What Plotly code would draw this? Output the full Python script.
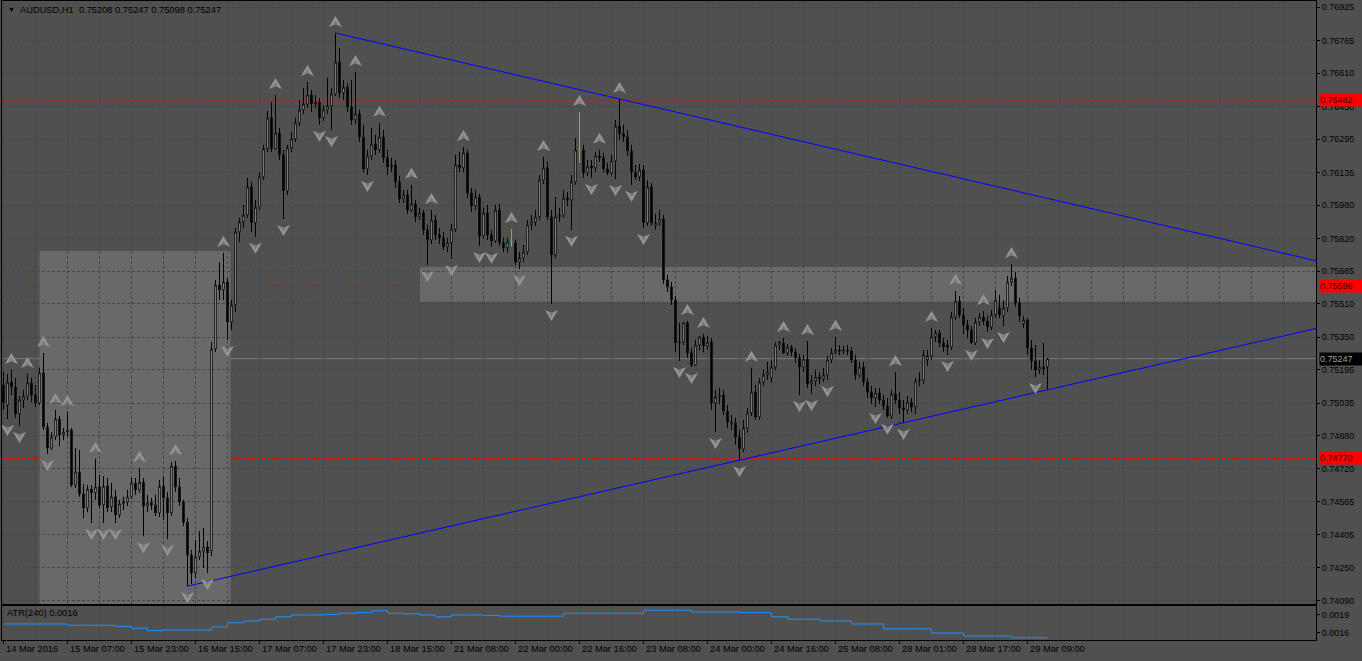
import plotly.graph_objects as go

# ---------------- data ----------------
symbol = "AUDUSD,H1"
opens = [0.75121,0.75025,0.75135,0.75112,0.74983,0.75049,0.75068,0.75131,0.75073,0.75035,
0.75179,0.74921,0.74820,0.74873,0.74959,0.74882,0.74896,0.74906,0.74643,0.74705,
0.74601,0.74534,0.74624,0.74606,0.74634,0.74548,0.74638,0.74539,0.74587,0.74500,
0.74553,0.74562,0.74587,0.74653,0.74620,0.74657,0.74543,0.74558,0.74548,0.74510,
0.74638,0.74582,0.74510,0.74734,0.74634,0.74562,0.74466,0.74309,0.74223,0.74300,
0.74328,0.74348,0.74330,0.75293,0.75599,0.75575,0.75613,0.75422,0.75503,0.75852,
0.75900,0.75933,0.76067,0.75895,0.75971,0.76115,0.76249,0.76397,0.76249,0.76325,
0.76220,0.76048,0.76254,0.76296,0.76373,0.76435,0.76463,0.76506,0.76463,0.76472,
0.76397,0.76435,0.76454,0.76511,0.76664,0.76516,0.76544,0.76449,0.76387,0.76416,
0.76306,0.76153,0.76215,0.76272,0.76244,0.76306,0.76206,0.76163,0.76172,0.76091,
0.76010,0.76029,0.75957,0.75986,0.75924,0.75943,0.75862,0.75814,0.75909,0.75838,
0.75824,0.75781,0.75800,0.75866,0.76172,0.76158,0.76230,0.76038,0.75976,0.76019,
0.75833,0.75943,0.75838,0.75809,0.75957,0.75800,0.75776,0.75804,0.75800,0.75708,
0.75728,0.75756,0.75886,0.75900,0.75924,0.76100,0.76158,0.75924,0.75742,0.75924,
0.75933,0.76014,0.76005,0.76091,0.76244,0.76244,0.76134,0.76167,0.76158,0.76215,
0.76206,0.76153,0.76134,0.76191,0.76358,0.76320,0.76306,0.76239,0.76138,0.76115,
0.76148,0.75895,0.76067,0.75881,0.75895,0.75914,0.75623,0.75589,0.75527,0.75322,
0.75326,0.75418,0.75274,0.75216,0.75312,0.75350,0.75307,0.75326,0.75035,0.75063,
0.75073,0.74997,0.74944,0.74940,0.74873,0.74815,0.74916,0.74988,0.75087,0.74968,
0.75135,0.75169,0.75155,0.75207,0.75312,0.75322,0.75274,0.75302,0.75279,0.75250,
0.75207,0.75245,0.75126,0.75140,0.75159,0.75150,0.75169,0.75241,0.75274,0.75288,
0.75283,0.75288,0.75283,0.75241,0.75169,0.75207,0.75135,0.75087,0.75059,0.75083,
0.75049,0.75020,0.74973,0.75078,0.75049,0.75011,0.75002,0.75039,0.75016,0.75140,
0.75145,0.75241,0.75260,0.75351,0.75370,0.75322,0.75312,0.75302,0.75446,0.75522,
0.75456,0.75408,0.75384,0.75322,0.75422,0.75446,0.75427,0.75398,0.75456,0.75489,
0.75451,0.75489,0.75613,0.75632,0.75513,0.75413,0.75432,0.75298,0.75236,0.75193,
0.75207,0.75208]
highs = [0.75183,0.75174,0.75193,0.75155,0.75068,0.75097,0.75174,0.75155,0.75121,0.75203,
0.75274,0.74940,0.74896,0.75002,0.74973,0.74916,0.74992,0.74916,0.74820,0.74811,
0.74648,0.74643,0.74643,0.74768,0.74691,0.74686,0.74677,0.74653,0.74620,0.74572,
0.74587,0.74620,0.74677,0.74677,0.74725,0.74677,0.74596,0.74582,0.74596,0.74667,
0.74686,0.74610,0.74753,0.74758,0.74677,0.74572,0.74486,0.74333,0.74381,0.74423,
0.74438,0.74376,0.75326,0.75623,0.75708,0.75752,0.75632,0.75527,0.75871,0.75919,
0.75981,0.76110,0.76091,0.76005,0.76138,0.76268,0.76430,0.76472,0.76506,0.76349,
0.76244,0.76268,0.76330,0.76397,0.76482,0.76540,0.76568,0.76530,0.76506,0.76492,
0.76458,0.76588,0.76540,0.76802,0.76731,0.76578,0.76564,0.76578,0.76616,0.76435,
0.76364,0.76244,0.76349,0.76316,0.76373,0.76339,0.76244,0.76206,0.76196,0.76120,
0.76053,0.76053,0.76077,0.76005,0.75967,0.75957,0.75886,0.75957,0.75933,0.75871,
0.75852,0.75824,0.75890,0.76220,0.76234,0.76258,0.76244,0.76062,0.76053,0.76034,
0.75967,0.75981,0.75862,0.75981,0.75986,0.75824,0.75824,0.75866,0.75814,0.75756,
0.75790,0.75909,0.75933,0.75957,0.76124,0.76210,0.76187,0.75957,0.76019,0.75967,
0.76053,0.76043,0.76124,0.76301,0.76425,0.76268,0.76196,0.76196,0.76234,0.76244,
0.76230,0.76182,0.76220,0.76387,0.76487,0.76364,0.76339,0.76268,0.76172,0.76177,
0.76172,0.76100,0.76086,0.75938,0.75957,0.75933,0.75647,0.75613,0.75546,0.75418,
0.75413,0.75427,0.75298,0.75336,0.75355,0.75365,0.75355,0.75346,0.75097,0.75107,
0.75097,0.75025,0.74978,0.74964,0.74906,0.74954,0.75011,0.75203,0.75121,0.75155,
0.75193,0.75231,0.75241,0.75326,0.75331,0.75346,0.75317,0.75312,0.75298,0.75269,
0.75264,0.75331,0.75169,0.75193,0.75183,0.75203,0.75260,0.75298,0.75351,0.75312,
0.75307,0.75312,0.75302,0.75264,0.75231,0.75231,0.75155,0.75116,0.75107,0.75107,
0.75073,0.75059,0.75097,0.75183,0.75087,0.75049,0.75068,0.75059,0.75155,0.75183,
0.75288,0.75288,0.75394,0.75384,0.75384,0.75346,0.75336,0.75470,0.75570,0.75546,
0.75489,0.75432,0.75403,0.75441,0.75465,0.75474,0.75451,0.75479,0.75575,0.75551,
0.75527,0.75642,0.75699,0.75661,0.75537,0.75451,0.75441,0.75336,0.75312,0.75241,
0.75322,0.75247]
lows = [0.75002,0.74959,0.75073,0.74964,0.74925,0.75011,0.75049,0.75039,0.75016,0.75025,
0.74906,0.74792,0.74811,0.74858,0.74829,0.74858,0.74873,0.74634,0.74629,0.74587,
0.74486,0.74514,0.74462,0.74572,0.74534,0.74462,0.74514,0.74514,0.74462,0.74486,
0.74524,0.74543,0.74577,0.74596,0.74606,0.74399,0.74514,0.74524,0.74495,0.74491,
0.74476,0.74385,0.74495,0.74610,0.74543,0.74447,0.74160,0.74170,0.74199,0.74285,
0.74247,0.74223,0.74304,0.75278,0.75527,0.75527,0.75336,0.75384,0.75470,0.75804,
0.75871,0.75919,0.75852,0.75829,0.75957,0.76100,0.76234,0.76234,0.76244,0.76196,
0.75914,0.76029,0.76234,0.76282,0.76358,0.76416,0.76444,0.76425,0.76444,0.76364,
0.76382,0.76416,0.76339,0.76501,0.76492,0.76482,0.76425,0.76364,0.76368,0.76282,
0.76138,0.76124,0.76196,0.76220,0.76230,0.76182,0.76124,0.76138,0.76062,0.75991,
0.75991,0.75938,0.75947,0.75899,0.75909,0.75838,0.75694,0.75795,0.75814,0.75795,
0.75766,0.75756,0.75723,0.75852,0.76138,0.76138,0.76014,0.75947,0.75957,0.75785,
0.75824,0.75814,0.75781,0.75800,0.75785,0.75756,0.75752,0.75781,0.75694,0.75675,
0.75708,0.75742,0.75862,0.75881,0.75909,0.76081,0.75909,0.75508,0.75728,0.75899,
0.75919,0.75976,0.75862,0.76077,0.76182,0.76110,0.76120,0.76110,0.76138,0.76187,
0.76138,0.76124,0.76124,0.76105,0.76291,0.76282,0.76215,0.76077,0.76100,0.76096,
0.75871,0.75881,0.75881,0.75862,0.75881,0.75604,0.75565,0.75503,0.75278,0.75236,
0.75312,0.75250,0.75207,0.75212,0.75288,0.75278,0.75288,0.75002,0.74896,0.75030,
0.74978,0.74916,0.74906,0.74835,0.74762,0.74801,0.74892,0.74973,0.74954,0.74954,
0.75116,0.75145,0.75131,0.75193,0.75288,0.75269,0.75260,0.75260,0.75226,0.75073,
0.75183,0.75107,0.75078,0.75116,0.75126,0.75135,0.75145,0.75226,0.75269,0.75264,
0.75269,0.75264,0.75226,0.75145,0.75155,0.75116,0.75059,0.75030,0.75016,0.75030,
0.75002,0.74964,0.74959,0.75030,0.74983,0.74940,0.74983,0.74992,0.74983,0.75116,
0.75126,0.75212,0.75241,0.75326,0.75302,0.75279,0.75264,0.75288,0.75432,0.75441,
0.75365,0.75346,0.75317,0.75312,0.75403,0.75408,0.75374,0.75384,0.75441,0.75441,
0.75403,0.75470,0.75594,0.75494,0.75422,0.75393,0.75264,0.75193,0.75159,0.75174,
0.75169,0.75098]
closes = [0.75039,0.75135,0.75112,0.74983,0.75049,0.75068,0.75131,0.75073,0.75035,0.75179,
0.74921,0.74820,0.74873,0.74959,0.74882,0.74896,0.74906,0.74643,0.74705,0.74601,
0.74534,0.74624,0.74606,0.74634,0.74548,0.74638,0.74534,0.74587,0.74500,0.74553,
0.74562,0.74587,0.74653,0.74620,0.74657,0.74543,0.74558,0.74548,0.74510,0.74638,
0.74582,0.74510,0.74734,0.74634,0.74562,0.74466,0.74309,0.74223,0.74300,0.74328,
0.74348,0.74319,0.75293,0.75599,0.75575,0.75613,0.75422,0.75503,0.75852,0.75900,
0.75933,0.76067,0.75895,0.75971,0.76115,0.76249,0.76397,0.76249,0.76325,0.76220,
0.76048,0.76254,0.76296,0.76373,0.76435,0.76463,0.76506,0.76463,0.76472,0.76397,
0.76435,0.76454,0.76511,0.76664,0.76516,0.76544,0.76449,0.76387,0.76416,0.76306,
0.76153,0.76215,0.76272,0.76244,0.76306,0.76206,0.76163,0.76172,0.76091,0.76010,
0.76029,0.75957,0.75986,0.75924,0.75943,0.75862,0.75814,0.75909,0.75838,0.75824,
0.75781,0.75800,0.75866,0.76172,0.76158,0.76230,0.76038,0.75976,0.76019,0.75833,
0.75943,0.75838,0.75809,0.75957,0.75800,0.75776,0.75804,0.75804,0.75708,0.75728,
0.75756,0.75886,0.75900,0.75924,0.76100,0.76158,0.75924,0.75742,0.75924,0.75933,
0.76014,0.76005,0.76091,0.76244,0.76244,0.76134,0.76163,0.76158,0.76215,0.76206,
0.76153,0.76134,0.76191,0.76358,0.76320,0.76306,0.76239,0.76138,0.76115,0.76148,
0.75895,0.76067,0.75895,0.75895,0.75914,0.75623,0.75589,0.75527,0.75322,0.75326,
0.75418,0.75274,0.75216,0.75312,0.75350,0.75307,0.75326,0.75035,0.75063,0.75073,
0.74997,0.74944,0.74940,0.74873,0.74815,0.74916,0.74988,0.75087,0.74968,0.75135,
0.75169,0.75183,0.75207,0.75312,0.75326,0.75274,0.75302,0.75279,0.75250,0.75207,
0.75245,0.75126,0.75140,0.75159,0.75150,0.75169,0.75241,0.75274,0.75288,0.75283,
0.75288,0.75283,0.75241,0.75169,0.75207,0.75135,0.75087,0.75059,0.75083,0.75049,
0.75020,0.74973,0.75078,0.75049,0.75011,0.75002,0.75039,0.75016,0.75140,0.75145,
0.75264,0.75260,0.75351,0.75370,0.75322,0.75302,0.75302,0.75446,0.75522,0.75456,
0.75408,0.75384,0.75322,0.75422,0.75446,0.75427,0.75398,0.75456,0.75527,0.75456,
0.75489,0.75613,0.75632,0.75513,0.75451,0.75432,0.75298,0.75236,0.75193,0.75207,
0.75198,0.75247]

up_fractals = [2, 6, 10, 13, 16, 23, 34, 43, 55, 68, 76, 83, 88, 94, 102, 107, 115, 127,
               135, 144, 149, 154, 171, 175, 187, 195, 201, 208, 223, 232, 238, 245, 252]
down_fractals = [1, 4, 11, 22, 25, 28, 35, 41, 46, 51, 56, 63, 70, 79, 82, 91, 106, 112,
                 119, 122, 129, 137, 142, 147, 153, 157, 160, 169, 172, 178, 184, 199,
                 202, 206, 218, 221, 225, 236, 242, 246, 250, 258]

atr_bars = [0, 4, 8, 12, 16, 20, 24, 28, 32, 36, 40, 44, 48, 52, 56, 60, 64, 68, 72, 76,
            80, 84, 88, 92, 96, 100, 104, 108, 112, 116, 120, 124, 128, 132, 136, 140,
            144, 148, 152, 156, 160, 164, 168, 172, 176, 180, 184, 188, 192, 196, 200,
            204, 208, 212, 216, 220, 224, 228, 232, 236, 240, 244, 248, 252, 256, 260, 261]
atr_vals = [0.00175, 0.00175, 0.00175, 0.00175, 0.00173, 0.00173, 0.00173, 0.00171, 0.00168,
            0.00164, 0.00165, 0.00165, 0.00165, 0.00170, 0.00177, 0.00180, 0.00183, 0.00187,
            0.00190, 0.00190, 0.00191, 0.00193, 0.00194, 0.00197, 0.00193, 0.00192, 0.00190,
            0.00187, 0.00190, 0.00190, 0.00189, 0.00188, 0.00188, 0.00188, 0.00188, 0.00193,
            0.00193, 0.00193, 0.00193, 0.00193, 0.00198, 0.00198, 0.00198, 0.00195, 0.00195,
            0.00195, 0.00194, 0.00194, 0.00187, 0.00183, 0.00183, 0.00180, 0.00180, 0.00175,
            0.00175, 0.00167, 0.00167, 0.00167, 0.00160, 0.00160, 0.00155, 0.00155, 0.00155,
            0.00152, 0.00152, 0.00152, 0.00152]
atr_title = "ATR(240) 0.0016"
atr_ticks = [0.0019, 0.0016]

time_labels = ["14 Mar 2016", "15 Mar 07:00", "15 Mar 23:00", "16 Mar 15:00", "17 Mar 07:00",
               "17 Mar 23:00", "18 Mar 15:00", "21 Mar 08:00", "22 Mar 00:00", "22 Mar 16:00",
               "23 Mar 08:00", "24 Mar 00:00", "24 Mar 16:00", "25 Mar 08:00", "28 Mar 01:00",
               "28 Mar 17:00", "29 Mar 09:00"]
time_label_bars = [0, 16, 32, 48, 64, 80, 96, 112, 128, 144, 160, 176, 192, 208, 224, 240, 256]

price_ticks = [0.76925, 0.76765, 0.76610, 0.76450, 0.76295, 0.76135, 0.75980, 0.75820, 0.75665,
               0.75510, 0.75350, 0.75195, 0.75035, 0.74880, 0.74720, 0.74565, 0.74405, 0.74250,
               0.74090]
red_levels = [0.76482, 0.75596, 0.74770]
# rectangles: (bar start, bar end), (price top, price bottom)
rect_bars = [(9, 56.75), (104, 340)]
rect_prices = [(0.75761, 0.7400), (0.75685, 0.75518)]
# trendline anchors (bar index) -> on bar highs / lows
upper_anchor = [83, 154]
lower_anchor = [46, 184]

# ---------------- style ----------------
BG = "#505050"
RECT = "#696969"
GRID = "#3c4a53"
FONT = "Liberation Sans, Arial, sans-serif"
X0 = -0.375
X1 = X0 + 1314 / 4.0
Y0, Y1 = 0.74075, 0.76955
PPX = (Y1 - Y0) / 603.0   # price per pixel (main pane)
BPX = 0.25                # bars per pixel

n = len(closes)
bars = list(range(n))
is_doji = [opens[i] == closes[i] for i in bars]

fig = go.Figure()

fig.add_trace(go.Candlestick(
    x=[b for b in bars if not is_doji[b]],
    open=[opens[b] for b in bars if not is_doji[b]],
    high=[highs[b] for b in bars if not is_doji[b]],
    low=[lows[b] for b in bars if not is_doji[b]],
    close=[closes[b] for b in bars if not is_doji[b]],
    increasing=dict(line=dict(color="black", width=1), fillcolor="white"),
    decreasing=dict(line=dict(color="black", width=1), fillcolor="black"),
    whiskerwidth=0, hoverinfo="skip", xaxis="x", yaxis="y"))

# doji candles in lime
dx, dy = [], []
for b in bars:
    if is_doji[b]:
        dx += [b, b, None, b - 0.25, b + 0.25, None]
        dy += [lows[b], highs[b], None, opens[b], opens[b], None]
fig.add_trace(go.Scatter(x=dx, y=dy, mode="lines", line=dict(color="#00ff00", width=1),
                         hoverinfo="skip", xaxis="x", yaxis="y"))

# trend lines (rays to the right edge)
def ray(b1, p1, b2, p2):
    slope = (p2 - p1) / (b2 - b1)
    return [b1, X1], [p1, p1 + slope * (X1 - b1)]

ux, uy = ray(upper_anchor[0], highs[upper_anchor[0]], upper_anchor[1], highs[upper_anchor[1]])
lx, ly = ray(lower_anchor[0], lows[lower_anchor[0]], lower_anchor[1], lows[lower_anchor[1]])
for xs, ys in ((ux, uy), (lx, ly)):
    fig.add_trace(go.Scatter(x=xs, y=ys, mode="lines", line=dict(color="#0000ff", width=1),
                             hoverinfo="skip", xaxis="x", yaxis="y"))

# ATR
fig.add_trace(go.Scatter(x=atr_bars, y=atr_vals, mode="lines",
                         line=dict(color="#1e90ff", width=1, shape="hv"),
                         hoverinfo="skip", xaxis="x2", yaxis="y2"))

shapes = []
for (bx0, bx1), (py0, py1) in zip(rect_bars, rect_prices):
    shapes.append(dict(type="rect", xref="x", yref="y", x0=bx0, x1=bx1, y0=py1, y1=py0,
                       fillcolor=RECT, line=dict(width=0), layer="below"))
# bid line
shapes.append(dict(type="line", xref="paper", yref="y", x0=0, x1=1, y0=closes[-1], y1=closes[-1],
                   line=dict(color="#6f7b84", width=1), layer="between"))
for lv in red_levels:
    shapes.append(dict(type="line", xref="paper", yref="y", x0=0, x1=1, y0=lv, y1=lv,
                       line=dict(color="#ff0000", width=1, dash="3px,2px"), layer="between"))

# fractal arrows as path glyphs
def glyph(b, p, up, scale, dyoff):
    s = 1 if up else -1
    pts = [(0, 6), (6.5, -5), (0, -2.2), (-6.5, -5)]
    out = []
    for k, (px, py) in enumerate(pts):
        xx = b + px * scale * BPX
        yy = p + s * (py * scale + dyoff) * PPX
        out.append(("M" if k == 0 else "L") + f"{xx:.4f},{yy:.6f}")
    return " ".join(out) + " Z"

outer, inner = [], []
for b in up_fractals:
    c = highs[b] + 11 * PPX
    outer.append(glyph(b, c, True, 1.0, 0))
    inner.append(glyph(b, c, True, 0.45, -1.0))
for b in down_fractals:
    c = lows[b] - 11 * PPX
    outer.append(glyph(b, c, False, 1.0, 0))
    inner.append(glyph(b, c, False, 0.45, -1.0))
shapes.append(dict(type="path", xref="x", yref="y", path=" ".join(outer),
                   fillcolor="#959595", line=dict(width=0), layer="above"))
shapes.append(dict(type="path", xref="x", yref="y", path=" ".join(inner),
                   fillcolor="#7a7a7a", line=dict(width=0), layer="above"))

annotations = []
title_txt = f"{symbol}\u00a0\u00a0{opens[-1]:.5f} {highs[-1]:.5f} {lows[-1]:.5f} {closes[-1]:.5f}"
annotations.append(dict(text=title_txt, xref="paper", yref="paper", x=16 / 1314, y=1 - 9 / 639,
                        xanchor="left", yanchor="middle", showarrow=False,
                        font=dict(family=FONT, size=9.3, color="black")))
annotations.append(dict(text="\u25bc", xref="paper", yref="paper", x=4 / 1314, y=1 - 9 / 639,
                        xanchor="left", yanchor="middle", showarrow=False,
                        font=dict(family=FONT, size=7, color="black")))
annotations.append(dict(text=atr_title, xref="paper", yref="paper", x=3 / 1314, y=27 / 639,
                        xanchor="left", yanchor="middle", showarrow=False,
                        font=dict(family=FONT, size=9.3, color="black")))
for b, t in zip(time_label_bars, time_labels):
    annotations.append(dict(text=t, xref="x2", yref="paper", x=b, y=-9 / 639, xanchor="left",
                            yanchor="middle", xshift=0, showarrow=False,
                            font=dict(family=FONT, size=9.3, color="black")))
for lv in red_levels:
    annotations.append(dict(text=f"{lv:.5f}", xref="paper", yref="y", x=1, y=lv, xanchor="left",
                            yanchor="middle", xshift=3, showarrow=False, bgcolor="#ff0000",
                            width=42, height=12, borderpad=0, align="left",
                            font=dict(family=FONT, size=9, color="#3a0000")))
annotations.append(dict(text=f"{closes[-1]:.5f}", xref="paper", yref="y", x=1, y=closes[-1],
                        xanchor="left", yanchor="middle", xshift=3, showarrow=False,
                        bgcolor="#000000", width=42, height=12, borderpad=0, align="left",
                        font=dict(family=FONT, size=9, color="#a0a0a0")))

MAIN_BOTTOM = 36 / 639
ATR_TOP = 34 / 639

fig.update_layout(
    width=1362, height=661, margin=dict(l=2, r=46, t=1, b=21),
    paper_bgcolor=BG, plot_bgcolor=BG, showlegend=False, boxgap=0.5,
    shapes=shapes, annotations=annotations,
    xaxis=dict(domain=[0, 1], range=[X0, X1], anchor="y", tickmode="linear", tick0=0, dtick=8,
               showticklabels=False, ticks="", showgrid=True, gridcolor=GRID, gridwidth=1,
               griddash="3px,2px", zeroline=False, showline=True, linecolor="black",
               linewidth=1, mirror=True, rangeslider=dict(visible=False)),
    yaxis=dict(domain=[MAIN_BOTTOM, 1], range=[Y0, Y1], anchor="x", side="right",
               tickmode="array", tickvals=price_ticks,
               ticktext=[f"{v:.5f}" for v in price_ticks], ticks="outside", ticklen=3,
               tickcolor="black", showgrid=True, gridcolor=GRID, gridwidth=1,
               griddash="3px,2px", zeroline=False, showline=True, linecolor="black",
               linewidth=1, mirror=True, tickfont=dict(family=FONT, size=9, color="black")),
    xaxis2=dict(domain=[0, 1], range=[X0, X1], anchor="y2", tickmode="array",
                tickvals=time_label_bars, showticklabels=False, ticks="outside", ticklen=3,
                tickcolor="black", showgrid=True, gridcolor=GRID, griddash="3px,2px",
                minor=dict(tickmode="linear", tick0=0, dtick=8, showgrid=True, gridcolor=GRID,
                           griddash="3px,2px", ticks=""),
                zeroline=False, showline=True, linecolor="black", linewidth=1, mirror=True),
    yaxis2=dict(domain=[0, ATR_TOP], range=[0.001483, 0.00205], anchor="x2", side="right",
                tickmode="array", tickvals=atr_ticks, ticktext=[f"{v:.4f}" for v in atr_ticks],
                ticks="outside", ticklen=3, tickcolor="black", showgrid=False, zeroline=False,
                showline=True, linecolor="black", linewidth=1, mirror=True,
                tickfont=dict(family=FONT, size=9, color="black")),
)

fig.write_html("out.html", config={"displayModeBar": False, "staticPlot": True},
               post_script="document.body.style.margin='0';document.body.style.overflow='hidden';"
                           "document.body.style.background='" + BG + "';")
